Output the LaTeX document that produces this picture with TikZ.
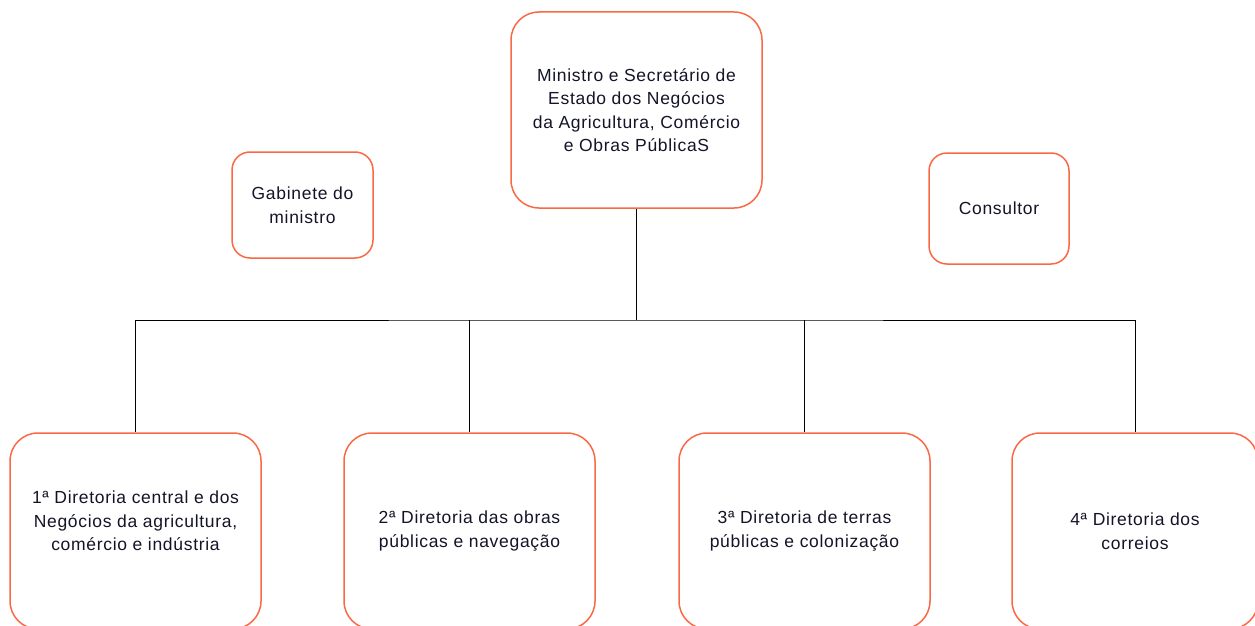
\documentclass[tikz,border=0pt]{standalone}
\usepackage{fontspec}
\setmainfont[LetterSpace=4]{Liberation Sans}
\definecolor{boxorange}{RGB}{250,105,70}
\definecolor{textdark}{RGB}{20,20,40}
\begin{document}
\begin{tikzpicture}[x=1pt,y=-1pt,
  box/.style={draw=boxorange,line width=1.5pt,fill=white,rounded corners=28pt,
    align=center,inner sep=0pt,text=textdark,
    font=\fontsize{17.5}{23.5}\selectfont},
  smallbox/.style={box,rounded corners=18pt},
  link/.style={draw=black,line width=1pt}]
\useasboundingbox (0,0) rectangle (1255,626);
\clip (0,0) rectangle (1255,626);
\node[box,minimum width=251pt,minimum height=196pt] (top) at (636.5,110)
  {Ministro e Secretário de\\Estado dos Negócios\\da Agricultura, Comércio\\e Obras PúblicaS};
\node[smallbox,minimum width=141pt,minimum height=106pt] (gab) at (302.5,205)
  {Gabinete do\\ministro};
\node[smallbox,minimum width=140pt,minimum height=111pt] (cons) at (999,208.5)
  {Consultor};
\node[box,minimum width=251pt,minimum height=196pt] (d1) at (135.5,531)
  {1ª Diretoria central e dos\\Negócios da agricultura,\\comércio e indústria\\[-3.5pt]};
\node[box,minimum width=251pt,minimum height=196pt] (d2) at (469.5,531)
  {2ª Diretoria das obras\\públicas e navegação};
\node[box,minimum width=251pt,minimum height=196pt] (d3) at (804.5,531)
  {3ª Diretoria de terras\\públicas e colonização};
\node[box,minimum width=246pt,minimum height=196pt] (d4) at (1135,531)
  {4ª Diretoria dos\\correios};
\coordinate (bar) at (636.5,320);
\draw[link] (top.south) -- (bar);
\draw[link] (d1.north) |- (bar) -| (d4.north);
\draw[link] (d2.north) -- (d2.north |- bar);
\draw[link] (d3.north) -- (d3.north |- bar);
\end{tikzpicture}
\end{document}
